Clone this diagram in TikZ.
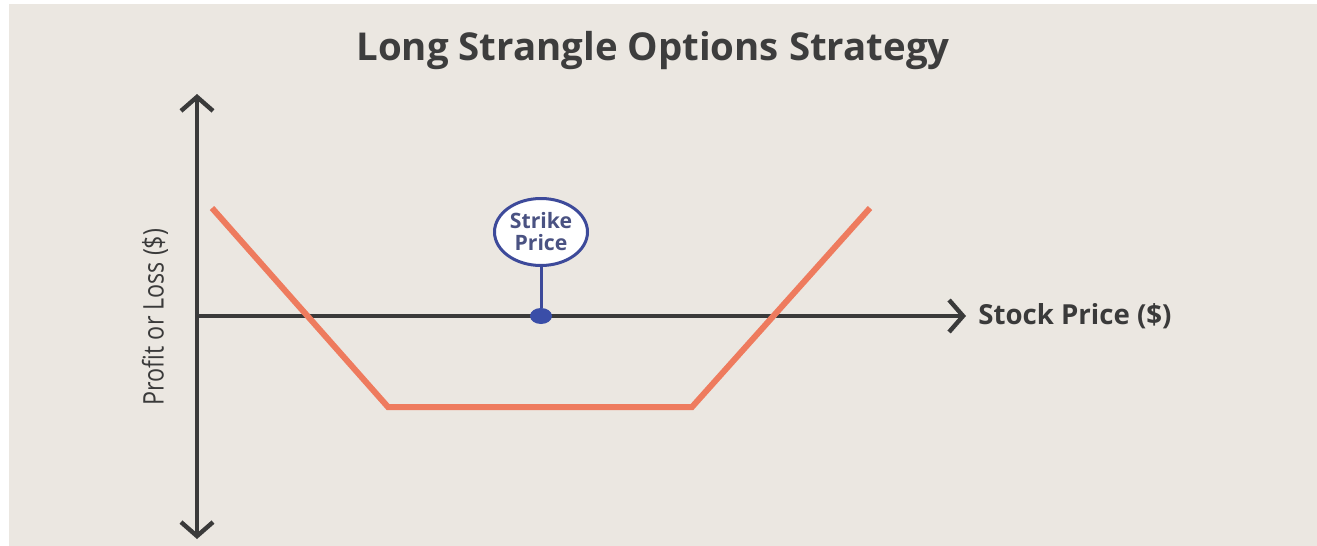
\documentclass[tikz,border=0pt]{standalone}
\usepackage{fontspec}
\setmainfont{Open Sans}
\newfontfamily\narrowsans{Open Sans}[FakeStretch=0.82]
\usetikzlibrary{arrows.meta,shapes.geometric}
\definecolor{paper}{HTML}{EBE7E1}
\definecolor{axisgray}{HTML}{3A3A3A}
\definecolor{payoff}{HTML}{EE7B5E}
\definecolor{strikeblue}{HTML}{3A4EA8}
\definecolor{strikeedge}{HTML}{3D4A9A}
\definecolor{striketext}{HTML}{4A5282}
\definecolor{titlegray}{HTML}{3D3D3D}
\tikzset{
  axisline/.style={draw=axisgray, line width=2.4pt, -{Straight Barb[length=7pt,width=16pt,line width=2.2pt]}},
  payoffline/.style={draw=payoff, line width=3pt, line join=miter},
  strikebubble/.style={ellipse, draw=strikeedge, line width=1.5pt, fill=white,
    minimum width=46.5pt, minimum height=33.5pt, inner sep=0pt, align=center,
    text=striketext, font=\fontsize{10.6}{11}\selectfont\bfseries},
  strikedot/.style={ellipse, fill=strikeblue, minimum width=11pt, minimum height=8pt, inner sep=0pt},
  axislabel/.style={text=axisgray, inner sep=0pt}
}
\begin{document}
\begin{tikzpicture}[x=0.5pt, y=-0.5pt]
  % page and backdrop
  \useasboundingbox (0,0) rectangle (1317,546);
  \fill[white] (0,0) rectangle (1317,546);
  \fill[paper] (9,4) rectangle (1317,546);

  % title
  \node[text=titlegray, font=\fontsize{19.2}{22}\selectfont\bfseries] (title) at (653,51) {Long Strangle Options Strategy};

  % axes
  \coordinate (origin) at (197,316);
  \coordinate (ytop) at (197,94);
  \coordinate (ybot) at (197,539);
  \coordinate (xend) at (966,316);
  \draw[axisline] (origin) -- (ytop);
  \draw[axisline] (origin) -- (ybot);
  \draw[axisline] (origin) -- (xend);

  \node[axislabel, anchor=west, font=\fontsize{13.8}{15}\selectfont\bfseries] (xlabel) at (978,316) {Stock Price (\$)};
  \node[axislabel, rotate=90, font=\narrowsans\fontsize{14.2}{16}\selectfont] (ylabel) at (155,317) {Profit or Loss (\$)};

  % payoff of the long strangle
  \coordinate (p1) at (212,208);
  \coordinate (p2) at (388,407);
  \coordinate (p3) at (692,407);
  \coordinate (p4) at (870,208);
  \draw[payoffline] (p1) -- (p2) -- (p3) -- (p4);

  % strike price marker
  \node[strikebubble] (strike) at (541,232) {Strike\\Price};
  \node[strikedot] (dot) at (541,316) {};
  \draw[strikeedge, line width=1.5pt] (strike.south) -- (dot.north);
\end{tikzpicture}
\end{document}
